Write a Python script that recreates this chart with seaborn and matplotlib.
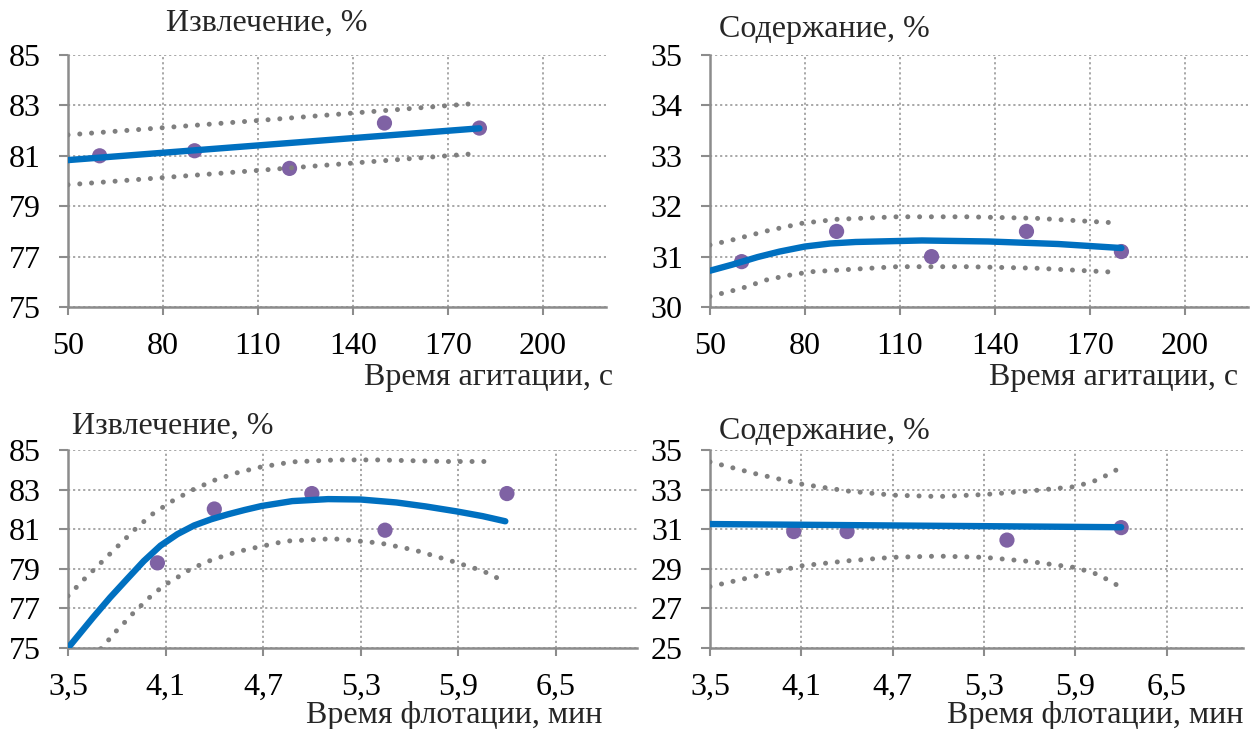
import matplotlib
matplotlib.use("Agg")
import matplotlib.pyplot as plt
import seaborn as sns

# ---------------- data ----------------
# agitation time (s)
agit_x = [60, 90, 120, 150, 180]
rec_agit = [81.0, 81.2, 80.5, 82.3, 82.1]
rec_agit_fit_x = [50, 180]
rec_agit_fit_y = [80.83, 82.09]
rec_agit_up_x = [50, 110, 177]
rec_agit_up_y = [81.83, 82.40, 83.06]
rec_agit_lo_x = [50, 110, 177]
rec_agit_lo_y = [79.85, 80.42, 81.07]

grade_agit = [30.9, 31.5, 31.0, 31.5, 31.1]
grade_agit_fit_x = [50, 57, 65, 72, 80, 88, 96, 117, 138, 160, 180]
grade_agit_fit_y = [30.72, 30.84, 30.99, 31.10, 31.20, 31.26, 31.29, 31.32, 31.30, 31.25, 31.17]
grade_agit_up_x = [50, 57, 68, 79, 90, 109, 131, 153, 178]
grade_agit_up_y = [31.23, 31.33, 31.51, 31.66, 31.74, 31.79, 31.79, 31.76, 31.67]
grade_agit_lo_x = [50, 60, 68, 75, 82, 90, 109, 131, 153, 178]
grade_agit_lo_y = [30.21, 30.37, 30.54, 30.63, 30.70, 30.73, 30.80, 30.80, 30.77, 30.69]

# flotation time (min)
flot_x = [4.05, 4.4, 5.0, 5.45, 6.2]
rec_flot = [79.3, 82.02, 82.8, 80.95, 82.8]
rec_flot_fit_x = [3.5, 3.655, 3.759, 3.862, 3.966, 4.069, 4.173, 4.276, 4.38, 4.483,
                  4.586, 4.69, 4.88, 5.1, 5.3, 5.52, 5.7, 5.89, 6.05, 6.19]
rec_flot_fit_y = [75.0, 76.55, 77.55, 78.47, 79.39, 80.17, 80.75, 81.19, 81.5, 81.75,
                  81.97, 82.17, 82.42, 82.52, 82.5, 82.35, 82.15, 81.9, 81.66, 81.4]
rec_flot_up_x = [3.5, 3.599, 3.702, 3.806, 3.909, 4.017, 4.141, 4.27, 4.4, 4.54,
                 4.68, 4.88, 5.15, 5.4, 5.83, 6.12]
rec_flot_up_y = [77.63, 78.47, 79.3, 80.14, 80.97, 81.75, 82.42, 83.0, 83.47, 83.85,
                 84.13, 84.4, 84.5, 84.5, 84.42, 84.42]
rec_flot_lo_x = [3.65, 3.697, 3.742, 3.79, 3.84, 3.89, 3.942, 3.994, 4.048, 4.108,
                 4.17, 4.232, 4.294, 4.362, 4.433, 4.501, 4.572, 4.642, 4.84, 5.13,
                 5.42, 5.63, 5.84, 6.05, 6.18]
rec_flot_lo_y = [74.55, 74.92, 75.33, 75.8, 76.22, 76.67, 77.08, 77.5, 77.88, 78.25,
                 78.55, 78.88, 79.13, 79.38, 79.58, 79.76, 79.92, 80.05, 80.4, 80.52,
                 80.3, 79.95, 79.44, 78.9, 78.38]

grade_flot_x = [4.05, 4.4, 5.45, 6.2]
grade_flot = [30.88, 30.88, 30.45, 31.08]
grade_flot_fit_x = [3.5, 6.2]
grade_flot_fit_y = [31.26, 31.10]
grade_flot_up_x = [3.5, 3.8, 4.1, 4.4, 4.7, 5.0, 5.3, 5.6, 5.9, 6.05, 6.17]
grade_flot_up_y = [34.4, 33.8, 33.28, 32.93, 32.72, 32.65, 32.75, 32.93, 33.15, 33.5, 34.0]
grade_flot_lo_x = [3.5, 3.8, 4.1, 4.4, 4.7, 5.0, 5.3, 5.6, 5.9, 6.05, 6.17]
grade_flot_lo_y = [28.1, 28.63, 29.15, 29.4, 29.58, 29.64, 29.58, 29.37, 29.06, 28.71, 28.19]

agit_ticks = [50, 80, 110, 140, 170, 200]
agit_ticklabels = ["50", "80", "110", "140", "170", "200"]
flot_ticks = [3.5, 4.1, 4.7, 5.3, 5.9, 6.5]
flot_ticklabels = ["3,5", "4,1", "4,7", "5,3", "5,9", "6,5"]
rec_agit_yticks = [75, 77, 79, 81, 83, 85]
grade_agit_yticks = [30, 31, 32, 33, 34, 35]
rec_flot_yticks = [75, 77, 79, 81, 83, 85]
grade_flot_yticks = [25, 27, 29, 31, 33, 35]

title_rec = "Извлечение, %"
title_grade = "Содержание, %"
xlabel_agit = "Время агитации, с"
xlabel_flot = "Время флотации, мин"

# ---------------- style ----------------
sns.set_style("white")
plt.rcParams["font.family"] = ["Liberation Serif", "DejaVu Serif"]
FS = 23

BLUE = "#0070C0"
PURPLE = "#7F62A4"
DOTGREY = "#7F7F7F"
AXGREY = "#8C8C8C"
GRIDGREY = "#A0A0A0"

fig = plt.figure(figsize=(12.5, 7.29), dpi=100)

W, H = 1250.0, 729.0
def box(l, t, r, b):
    return [l / W, 1 - b / H, (r - l) / W, (b - t) / H]

ax_tl = fig.add_axes(box(68, 55, 606, 307))
ax_tr = fig.add_axes(box(710, 55, 1248, 307))
ax_bl = fig.add_axes(box(68, 450, 637, 648))
ax_br = fig.add_axes(box(710, 450, 1243, 648))


def draw(ax, px, py, fx, fy, ux, uy, lx, ly, xlim, ylim, xt, xtl, yt, xpad):
    sns.scatterplot(x=px, y=py, ax=ax, s=120, color=PURPLE, edgecolor="none",
                    zorder=3, legend=False)
    for bx, by in ((ux, uy), (lx, ly)):
        sns.lineplot(x=bx, y=by, ax=ax, color=DOTGREY, lw=3.6, sort=False,
                     linestyle=(0, (0.01, 2.35)), dash_capstyle="round",
                     estimator=None, zorder=4, legend=False)
    sns.lineplot(x=fx, y=fy, ax=ax, color=BLUE, lw=4.6, sort=False,
                 estimator=None, zorder=5, legend=False,
                 solid_capstyle="round", solid_joinstyle="round")
    ax.set_xlim(*xlim)
    ax.set_ylim(*ylim)
    ax.set_xticks(xt)
    ax.set_xticklabels(xtl)
    ax.set_yticks(yt)
    ax.set_yticklabels([str(v) for v in yt])
    ax.set_xlabel("")
    ax.set_ylabel("")
    ax.grid(True, linestyle=(0, (1.2, 1.6)), color=GRIDGREY, lw=1.3)
    ax.set_axisbelow(True)
    for s in ("top", "right"):
        ax.spines[s].set_visible(False)
    for s in ("left", "bottom"):
        ax.spines[s].set_color(AXGREY)
        ax.spines[s].set_linewidth(1.8)
        ax.spines[s].set_zorder(2)
    ax.tick_params(axis="y", which="both", direction="out", length=6.5, width=1.5,
                   color=AXGREY, pad=13, labelsize=FS, left=True)
    ax.tick_params(axis="x", which="both", direction="out", length=5.8, width=1.5,
                   color=AXGREY, pad=xpad, labelsize=FS, bottom=True)
    for lab in ax.get_xticklabels() + ax.get_yticklabels():
        lab.set_color("black")


draw(ax_tl, agit_x, rec_agit, rec_agit_fit_x, rec_agit_fit_y,
     rec_agit_up_x, rec_agit_up_y, rec_agit_lo_x, rec_agit_lo_y,
     (50, 220), (75, 85), agit_ticks, agit_ticklabels, rec_agit_yticks, 12.4)
draw(ax_tr, agit_x, grade_agit, grade_agit_fit_x, grade_agit_fit_y,
     grade_agit_up_x, grade_agit_up_y, grade_agit_lo_x, grade_agit_lo_y,
     (50, 220), (30, 35), agit_ticks, agit_ticklabels, grade_agit_yticks, 12.4)
draw(ax_bl, flot_x, rec_flot, rec_flot_fit_x, rec_flot_fit_y,
     rec_flot_up_x, rec_flot_up_y, rec_flot_lo_x, rec_flot_lo_y,
     (3.5, 7.0), (75, 85), flot_ticks, flot_ticklabels, rec_flot_yticks, 11.8)
draw(ax_br, grade_flot_x, grade_flot, grade_flot_fit_x, grade_flot_fit_y,
     grade_flot_up_x, grade_flot_up_y, grade_flot_lo_x, grade_flot_lo_y,
     (3.5, 7.0), (25, 35), flot_ticks, flot_ticklabels, grade_flot_yticks, 11.8)

# titles and axis labels
fig.text(166 / W, 1 - 23 / H, title_rec, fontsize=FS, ha="left", va="center")
fig.text(719 / W, 1 - 29 / H, title_grade, fontsize=FS, ha="left", va="center")
fig.text(72 / W, 1 - 426 / H, title_rec, fontsize=FS, ha="left", va="center")
fig.text(719 / W, 1 - 431 / H, title_grade, fontsize=FS, ha="left", va="center")

fig.text(613 / W, 1 - 377 / H, xlabel_agit, fontsize=FS, ha="right", va="center")
fig.text(1238 / W, 1 - 377 / H, xlabel_agit, fontsize=FS, ha="right", va="center")
fig.text(602 / W, 1 - 715 / H, xlabel_flot, fontsize=FS, ha="right", va="center")
fig.text(1243 / W, 1 - 715 / H, xlabel_flot, fontsize=FS, ha="right", va="center")

fig.savefig("out.png", dpi=100)
